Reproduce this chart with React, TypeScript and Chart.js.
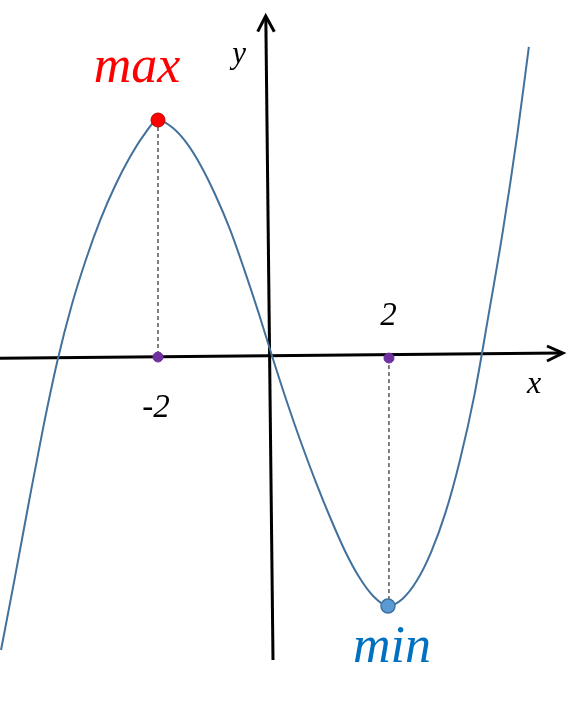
import React, { useEffect, useRef } from "react";
import { Chart, registerables } from "chart.js";

Chart.register(...registerables);

// Visible window of the plane (math units)
const X_RANGE = [-4.748, 5.322];
const Y_RANGE = [-24.475, 24.136];

// The cubic curve
const CURVE_X = [-4.73, -4.5, -4.25, -4, -3.75, -3.5, -3.25, -3, -2.75, -2.5, -2.25, -2, -1.75, -1.5, -1.25, -1, -0.75, -0.5, -0.25, 0, 0.25, 0.5, 0.75, 1, 1.25, 1.5, 1.75, 2, 2.25, 2.5, 2.75, 3, 3.25, 3.5, 3.75, 4, 4.25, 4.45];
const CURVE_Y = [-19.93, -15.25, -10.0, -4.92, -0.34, 3.46, 6.58, 9.26, 11.51, 13.4, 14.96, 16.0, 15.49, 14.43, 12.87, 10.9, 8.6, 5.86, 2.92, -0.2, -3.2, -6.0, -8.6, -11.0, -13.2, -15.0, -16.3, -16.95, -16.47, -15.24, -13.29, -10.62, -7.08, -2.7, 2.8, 8.54, 15.05, 20.95];

// Axes (slightly tilted, as drawn) and arrow heads
const X_AXIS_X = [-4.748, 5.02];
const X_AXIS_Y = [-0.156, 0.2];
const X_ARROW_X = [4.765, 5.043, 4.765];
const X_ARROW_Y = [0.678, 0.203, -0.339];
const Y_AXIS_X = [0, -0.125];
const Y_AXIS_Y = [-20.61, 22.95];
const Y_ARROW_X = [-0.266, -0.127, 0.023];
const Y_ARROW_Y = [21.99, 23.05, 21.99];

// Extremum points and their projections
const MAX_X = [-2];
const MAX_Y = [16];
const MIN_X = [2];
const MIN_Y = [-16.95];
const FOOT_X = [-2, 2.017];
const FOOT_Y = [-0.07, -0.14];
const DROP_MAX_X = [-2, -2];
const DROP_MAX_Y = [16, -0.07];
const DROP_MIN_X = [2.017, 2.017];
const DROP_MIN_Y = [-0.14, -16.95];

// Text labels
const LABEL_TEXT = ["max", "min", "y", "x", "2", "-2"];
const LABEL_X = [-2.365, 2.07, -0.591, 4.539, 2.009, -2.035];
const LABEL_Y = [18.58, -20.75, 19.86, -2.51, 2.1, -4.14];
const LABEL_COLOR = ["#FF0000", "#0070C0", "#000000", "#000000", "#000000", "#000000"];
const LABEL_SIZE = [52, 52, 31, 32, 33, 33];

const pts = (xs: number[], ys: number[]) => xs.map((x, i) => ({ x, y: ys[i] }));

const labelPlugin = {
  id: "labels",
  afterDatasetsDraw(chart: any) {
    const { ctx } = chart;
    const sx = chart.scales.x;
    const sy = chart.scales.y;
    ctx.save();
    ctx.textAlign = "center";
    ctx.textBaseline = "alphabetic";
    LABEL_TEXT.forEach((t, i) => {
      ctx.font = `italic ${LABEL_SIZE[i]}px "Liberation Serif", "Times New Roman", serif`;
      ctx.fillStyle = LABEL_COLOR[i];
      ctx.fillText(t, sx.getPixelForValue(LABEL_X[i]), sy.getPixelForValue(LABEL_Y[i]));
    });
    ctx.restore();
  },
};

export default function App() {
  const ref = useRef<HTMLCanvasElement | null>(null);

  useEffect(() => {
    if (!ref.current) return;
    const lineDs = (data: any[], extra: any) => ({
      data,
      showLine: true,
      pointRadius: 0,
      clip: false,
      tension: 0,
      ...extra,
    });
    const chart = new Chart(ref.current, {
      type: "scatter",
      data: {
        datasets: [
          lineDs(pts(CURVE_X, CURVE_Y), {
            borderColor: "#41719C",
            borderWidth: 2,
            cubicInterpolationMode: "monotone",
            order: 2,
          }),
          lineDs(pts(X_AXIS_X, X_AXIS_Y), { borderColor: "#000", borderWidth: 3, order: 3 }),
          lineDs(pts(X_ARROW_X, X_ARROW_Y), { borderColor: "#000", borderWidth: 3, borderJoinStyle: "miter", order: 3 }),
          lineDs(pts(Y_AXIS_X, Y_AXIS_Y), { borderColor: "#000", borderWidth: 3, order: 3 }),
          lineDs(pts(Y_ARROW_X, Y_ARROW_Y), { borderColor: "#000", borderWidth: 3, borderJoinStyle: "miter", order: 3 }),
          lineDs(pts(DROP_MAX_X, DROP_MAX_Y), { borderColor: "#000", borderWidth: 1, borderDash: [4, 3], order: 4 }),
          lineDs(pts(DROP_MIN_X, DROP_MIN_Y), { borderColor: "#000", borderWidth: 1, borderDash: [4, 3], order: 4 }),
          {
            data: pts(FOOT_X, FOOT_Y),
            pointRadius: 5,
            backgroundColor: "#7030A0",
            borderColor: "#7030A0",
            borderWidth: 1,
            clip: false,
            order: 1,
          },
          {
            data: pts(MAX_X, MAX_Y),
            pointRadius: 7,
            backgroundColor: "#FF0000",
            borderColor: "#C00000",
            borderWidth: 1,
            clip: false,
            order: 0,
          },
          {
            data: pts(MIN_X, MIN_Y),
            pointRadius: 7,
            backgroundColor: "#5B9BD5",
            borderColor: "#41719C",
            borderWidth: 1.5,
            clip: false,
            order: 0,
          },
        ],
      },
      options: {
        animation: false,
        responsive: false,
        events: [],
        layout: { padding: 0, autoPadding: false },
        plugins: { legend: { display: false }, tooltip: { enabled: false } },
        scales: {
          x: { type: "linear", min: X_RANGE[0], max: X_RANGE[1], display: false },
          y: { type: "linear", min: Y_RANGE[0], max: Y_RANGE[1], display: false },
        },
      },
      plugins: [labelPlugin],
    } as any);
    return () => chart.destroy();
  }, []);

  return (
    <div style={{ position: "fixed", left: 0, top: 0, width: 579, height: 717, background: "#fff" }}>
      <canvas ref={ref} width={579} height={717} style={{ display: "block" }} />
    </div>
  );
}
